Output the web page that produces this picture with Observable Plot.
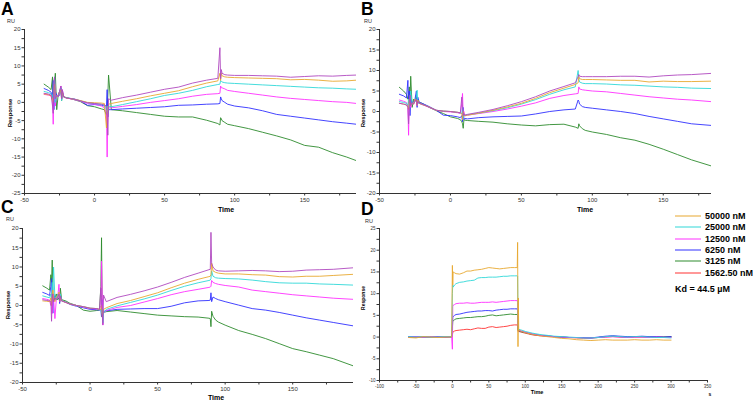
<!DOCTYPE html>
<html><head><meta charset="utf-8">
<script src="https://cdn.jsdelivr.net/npm/d3@7"></script>
<script src="https://cdn.jsdelivr.net/npm/@observablehq/plot@0.6"></script>
<style>
body{margin:0;background:#fff;font-family:"Liberation Sans",Arial,sans-serif;}
#root{position:relative;width:753px;height:402px;overflow:hidden;background:#fff;}
.t{position:absolute;white-space:nowrap;color:#000;line-height:1;transform:translate(-50%,-50%);}
.big{font-weight:bold;font-size:17.5px;line-height:17px;transform:none;}
.ru{font-size:5.5px;color:#333;}
.resp{font-weight:bold;font-size:6px;transform:translate(-50%,-50%) rotate(-90deg);}
.time{font-weight:bold;font-size:7px;}
.leg{position:absolute;font-weight:bold;font-size:9px;line-height:1;white-space:nowrap;transform:translateY(-50%);}
.legline{position:absolute;height:0;width:26px;border-top:1.6px solid;transform:translateY(-50%);}
</style>
</head><body>
<div id="root"></div>
<script>
// ---------- colours ----------
const cPurple = "#b048c0", cOrange = "#e8a830", cCyan = "#30d8d8", cMagenta = "#ff30ff",
      cBlue = "#3030ff", cGreen = "#2e8b2e", cRed = "#ff3333";

// ---------- panel A ----------
const tA = [-36,-33,-31,-30,-29.5,-29,-28.5,-28,-27,-26,-25,-24,-23.5,-23,-22,-20,-15,-10,-5,0,5,7,8.5,9,9.5,10,12,20,30,40,50,60,70,80,88,89.5,90,90.5,91,93,95,100,110,120,130,140,150,160,170,180,187];
const purpleA = [2.5,2.3,2.0,-1,-3,6,7,1,2,1.5,3,4.5,1,3.5,1.5,1.2, 0.9,0.4,-0.1,-0.3,-0.5,-0.7, -1,-3,-9,1,0.6, 1.3,2,2.8,3.6,4.2,5.3,6.1, 6.6,15,6.5,9,8,7.6,7.5, 7.4,7.4,7.3,7.2,6.9,7.1,7.3,7.2,7.4, 7.5];
const orangeA = [2.3,2.1,1.8,1,0,3,5,2,1.5,1.8,2.5,3.5,1.2,2.8,1.5,1.2, 0.9,0.5,0,-0.1,-0.2,-0.3, -7,-4,-2,-0.5,-0.3, 0.3,1,1.8,2.5,3.2,4.3,5.3, 5.9,8,6,8,7.3,7.0,6.9, 6.8,6.7,6.6,6.5,6.2,6.3,6.1,5.8,5.9, 6.1];
const cyanA = [3,2.7,2.4,2,1,5,7,0,2,1.5,2.5,4,0.5,3,1.5,1.3, 0.9,0.4,-0.1,-0.3,-0.6,-0.8, -2,-1,-3,-1,-1.2, -0.6,0.2,1,1.9,2.5,3.3,4.3, 4.9,5,6,5.8,5.6,5.4,5.3, 5.2,5.0,4.8,4.6,4.4,4.2,4.0,3.9,3.7, 3.6];
const magentaA = [2.2,2,1.8,0.5,-6,3,6,-1,2,1.5,2.8,4.5,0.8,3.5,1.6,1.2, 0.8,0.3,-0.3,-0.5,-1.0,-1.5, -3,-15,-2,-1.5,-1.5, -1.1,-0.6,0,0.5,1,1.7,2.2, 2.4,2.5,4.5,4,4,3.7,3.3, 3.0,2.5,2.0,1.5,1.1,0.8,0.5,0.2,0, -0.3];
const blueA = [3.8,3.3,2.8,1,6,-2,4,3,2,1.5,2,4,1,3,1.5,1.2, 1,0.4,-0.8,-0.6,-0.8,-1.0, -1,3.5,-4,-2,-2, -1.8,-1.6,-1.4,-1.2,-0.8,-0.7,-0.5, -0.4,-0.3,1.5,1,0.5,0,-0.5, -1.0,-1.5,-2.3,-3.3,-3.8,-4.3,-4.8,-5.3,-5.7, -6.0];
const greenA = [5,4.2,3.5,7,-1,2,5,8,-2,2,3,4,0.5,2.5,1.5,1.3, 0.8,0.2,-0.9,-1.2,-1.8,-2.0, -3.5,-2,2,7.5,-2, -2.3,-2.8,-3.3,-3.8,-4,-4.0,-4.9, -5.8,-6.2,-4.2,-4.5,-5,-5.5,-6, -6.4,-7.2,-8.2,-9.2,-10.3,-11.8,-12.3,-13.8,-15.0, -16.0];

// ---------- panel B ----------
const tB = [-36,-33,-31,-30,-29.5,-29,-28.5,-28,-27,-26,-25,-24,-23.5,-23,-22,-20,-15,-10,-5,0,5,7,8,8.5,9,9.5,10,12,20,30,40,50,60,70,80,88,90,90.5,91,93,95,100,110,120,130,140,150,160,170,184];
const purpleB = [2,1.8,1.6,1,-3,2,4,1.5,2.2,1.8,2.5,3,1.5,2.5,2,1.8, 1.1,0.3,0.1,0,-0.2,-0.3, 3.5,1,-1,-0.5,-0.9,-0.7, -0.2,0.5,1.4,2.4,3.6,5.0,6.1, 7.0,8.5,9,8.6,8.5,8.5, 8.5,8.5,8.6,8.6,8.4,8.7,8.9,9.0, 9.3];
const orangeB = [2,1.8,1.6,1.2,0.5,3,2,1.5,2,1.8,3,2.5,1.5,2.8,2,1.7, 1.1,0.3,0.1,0,-0.2,-0.3, -0.5,-2,0,-1,-1,-0.9, -0.4,0.3,1.1,2.0,3.2,4.6,5.7, 6.6,7,8.5,8,7.8,7.8, 7.8,7.7,7.6,7.6,7.2,7.4,7.3,7.3, 7.4];
const cyanB = [2.4,2.2,2,1.5,3,1,3,5,1.8,2,2.5,3.5,5.2,2,2,1.8, 1.1,0.3,0.1,0,-0.2,-0.4, -0.5,1,-1.5,-1,-0.9,-0.8, -0.4,0.2,0.9,1.8,2.9,4.2,5.3, 6.0,10,8,7.2,6.9,6.8, 6.8,6.7,6.5,6.4,6.2,6.0,5.9,5.7, 5.6];
const magentaB = [2.8,2.5,2.2,1,-5.8,3,2,1,2,1.8,2.5,3,1.5,2.5,2,1.7, 1.0,0.3,0,-0.1,-0.3,-0.5, 2,4.4,-1,0,-1.1,-0.9, -0.5,0,0.6,1.3,2.1,3.2,3.9, 4.3,4.4,6,5.5,5.3,5.2, 5.0,4.8,4.4,4.0,3.6,3.3,3.0,2.8, 2.4];
const blueB = [4.2,3.8,3.3,7.6,2,5,-1,3,2,2.5,3,5,1,3.5,2.2,2, 1.2,0.3,-0.9,-1,-1.3,-1.5, -1,-2.5,1,-2,-1.7,-1.8, -1.5,-1.3,-1.2,-1.1,-0.6,0.0,0.4, 0.6,2.8,2.5,1.8,1.2,1.0, 0.8,0.4,0.0,-0.5,-1.2,-1.8,-2.4,-3.0, -3.4];
const greenB = [5.9,5,4.2,3,4,6,2,8.6,1,3,2.5,4,2,3,2.2,2, 1.0,0.2,-0.5,-1.3,-1.7,-2, -2.5,-3,-4.1,-2,-2.1,-2.2, -2.4,-2.6,-3.0,-3.3,-3.5,-3.2,-3.1, -3.8,-4.1,-3,-3.5,-4.2,-4.6, -5.0,-5.6,-6.4,-7.0,-8.0,-9.2,-10.5,-11.8, -13.3];

// ---------- panel C ----------
const tC = [-35,-32,-30,-29,-28.5,-28,-27.5,-27,-26,-25,-24,-23,-22.5,-22,-21,-18,-15,-10,-5,0,5,7,8,8.5,9,9.5,10,12,20,30,40,50,60,70,80,88,89,89.5,90,91,93,95,100,110,120,130,140,150,160,170,180,195];
const purpleC = [1.5,1.3,1.2,1,-4.1,3,2,1,2,1.5,2,3,1,2.5,1.2,0.8, 0.4,0,-0.3,-0.7,-0.8,-1, 4.5,2,-2,-5,2.7,1.0, 2.1,2.9,3.8,4.8,6.0,7.3,8.4, 9.3,9.4,19,11,10,9.2,9.0, 8.9,9.0,9.1,9.0,8.8,8.9,9.2,9.3,9.4, 9.8];
const orangeC = [1.2,1.1,1,2,0,3,4,1.5,1,2,2.5,3.5,1,2,1.2,0.8, 0.4,0,-0.3,-0.7,-0.8,-1, -1,0,-3,-2,-1,-0.6, 0.5,1.3,2.3,3.3,4.6,5.8,6.8, 7.5,7.6,8,11,9,8.6,8.4, 8.2,8.2,8.0,7.9,7.5,7.4,7.6,7.6,7.8, 8.1];
const cyanC = [2.5,2.2,2,3,1,6,4,10,2,1.5,3,2.5,1.5,3,1.2,0.9, 0.4,0,-0.3,-0.7,-0.8,-1.1, -1,-2,-1,-4.5,-2,-1.0, -0.1,0.8,1.7,2.7,3.9,5.0,5.9, 6.5,6.6,7,9,7.6,7.2,7.1, 7.0,6.9,6.6,6.2,5.9,5.8,5.8,5.6,5.5, 5.3];
const magentaC = [1.8,1.6,1.4,0,2,-2,3,2,-3.4,1.5,2,5.5,1,2.5,1.2,0.8, 0.4,0,-0.4,-0.8,-0.9,-1.1, 0,11.5,3,-5.1,-2,-1.3, -0.5,0,0.9,1.8,2.8,3.6,4.2, 4.7,4.8,5,6.5,6,5.7,5.5, 5.2,4.8,4.0,3.6,3.2,2.8,2.5,2.2,1.9, 1.6];
const blueC = [3.4,3,2.6,5,7,1,-2,3,2,1.5,2.5,3,0.5,2,1.2,0.9, 0.3,-0.2,-0.6,-1,-1.1,-1.2, -1,-3,1.5,-2,-1.5,-1.4, -1.0,-0.9,-0.8,-0.8,-0.2,0.7,1.2, 1.3,1.4,3.3,1,2.2,1.8,1.5, 1.0,0.1,-0.8,-1.2,-1.8,-2.5,-3.2,-3.8,-4.4, -5.3];
const greenC = [5.1,4.5,4,8,6,11.8,3,1,2,3,1.5,2,1,4.5,1.5,1.2, 0.6,0,-1.2,-1.5,-1.3,-1.2, 5,17.6,-1,-2,-1.8,-1.6, -1.3,-1.7,-2.1,-2.5,-2.7,-2.9,-3.0, -3.3,-3.4,-5.5,-1.5,-2.8,-3.8,-4.3, -5.1,-6.5,-7.5,-8.6,-9.9,-11.2,-12.0,-12.9,-13.8, -15.7];

// ---------- panel D ----------
const tD = [-60,-50,-40,-30,-20,-10,-1,0,0.5,1,3,5,10,15,20,25,30,35,40,45,50,55,60,65,70,75,80,85,89,89.5,90,90.5,91,93,95,100,110,120,130,140,150,160,170,180,190,200,210,220,230,240,250,260,270,280,290,300];
const orangeD = [-0.1,-0.2,0.1,0,-0.1,0,0, 16.5,12,15,14.8,14.6, 14.5,14.8,15.2,15.2,15.4,15.5,15.6,15.8,16.0,15.9,15.8,15.7,15.8,15.9,16.0,16.0, 16.0,21.8,-2.2,9,1.6,1.4,1.3, 1.0,0.6,0.3,0.1,-0.1,-0.3,-0.4,-0.6,-0.7,-0.8,-0.7,-0.6,-0.7,-0.7,-0.7,-0.6,-0.7,-0.7,-0.6,-0.7,-0.7];
const cyanD = [0.1,0,0.1,0,0,0.1,0, 10,12,11.5,12,12.3, 12.6,12.7,12.9,13.0,13.1,13.6,13.7,13.7,13.8,13.8,13.8,13.9,14.0,14.0,14.1,14.1, 14.1,14,5,2,1.8,1.7,1.6, 1.3,0.9,0.6,0.4,0.2,0.1,0,-0.1,-0.2,-0.2,-0.1,0.1,0.2,0.1,0,0.1,0.1,0,-0.1,-0.1,-0.2];
const magentaD = [0,0.1,0,0.1,0,0,0, -2.8,7,7.3,7.5,7.7, 7.8,7.8,7.9,7.8,7.8,7.9,8.0,8.0,8.0,8.1,8.0,8.1,8.2,8.3,8.4,8.4, 8.4,8,3,1.8,1.6,1.5,1.4, 1.1,0.7,0.4,0.2,0.1,0,-0.1,-0.1,-0.2,-0.2,-0.1,0,0.1,0,-0.1,0,0,-0.1,0,-0.1,-0.1];
const blueD = [0.1,0.1,0,0,0.1,0,0, 3,4.5,4.7,5.0,5.2, 5.3,5.5,5.7,5.8,5.9,6.0,6.0,6.1,6.1,6.0,6.2,6.3,6.4,6.4,6.5,6.5, 6.5,6,2,1.8,1.5,1.4,1.3, 1.1,0.7,0.4,0.3,0.1,0,-0.1,-0.1,-0.1,-0.2,0,0.2,0.3,0.2,0.1,0.1,0.2,0.1,0.1,0,0.1];
const greenD = [0,0,0.1,0,0,0,0, 2,3.5,3.8,4.0,4.2, 4.3,4.4,4.5,4.5,4.6,4.7,4.7,4.8,5.0,5.1,4.9,5.0,5.1,5.2,5.3,5.2, 5.2,5,1.5,1.5,1.5,1.3,1.2, 1.0,0.6,0.4,0.2,0.1,0,-0.1,-0.1,-0.2,-0.2,-0.1,0.1,0.2,0.1,0,0.1,0.1,0,0,0,0.1];
const redD = [0,0,0,0.1,0,0,0, 0.5,1,1.2,1.4,1.5, 1.6,1.7,1.8,1.7,1.9,2.1,2.0,2.0,2.3,2.4,2.2,2.3,2.4,2.5,2.7,2.8, 2.8,2.5,1.5,1.2,1.3,1.2,1.1, 0.9,0.5,0.3,0.2,0.1,0,-0.1,-0.2,-0.2,-0.2,-0.1,0,0.1,0,-0.1,0,0,0,0,0,0];

// ---------- ticks and labels ----------
const xTicksABC = [-50,-25,0,25,50,75,100,125,150,175];
const xLabelsABC = [-50,0,50,100,150];
const yTicksA = [-25,-22.5,-20,-17.5,-15,-12.5,-10,-7.5,-5,-2.5,0,2.5,5,7.5,10,12.5,15,17.5,20];
const yLabelsA = [-25,-20,-15,-10,-5,0,5,10,15,20];
const yTicksBC = [-20,-17.5,-15,-12.5,-10,-7.5,-5,-2.5,0,2.5,5,7.5,10,12.5,15,17.5,20];
const yLabelsBC = [-20,-15,-10,-5,0,5,10,15,20];
const xTicksD = [-100,-75,-50,-25,0,25,50,75,100,125,150,175,200,225,250,275,300,325,350];
const xLabelsD = [-100,-50,0,50,100,150,200,250,300,350];
const yTicksD = [-10,-7.5,-5,-2.5,0,2.5,5,7.5,10,12.5,15,17.5,20,22.5,25];
const yLabelsD = [-10,-5,0,5,10,15,20,25];

const legendLabels = ["50000 nM","25000 nM","12500 nM","6250 nM","3125 nM","1562.50 nM"];
const legendColors = [cOrange, cCyan, cMagenta, cBlue, cGreen, cRed];
const kdText = "Kd = 44.5 µM";

const root = document.getElementById("root");

function makePanel(p) {
  const xl = new Set(p.xLabels), yl = new Set(p.yLabels);
  const marks = [
    Plot.axisX({ticks: p.xTicks, tickFormat: d => xl.has(d) ? String(d) : "", tickSize: 2.5, tickPadding: 1.5, fontSize: p.fs, label: null}),
    Plot.axisY({ticks: p.yTicks, tickFormat: d => yl.has(d) ? String(d) : "", tickSize: 2.5, tickPadding: 1.5, fontSize: p.fs, label: null}),
    Plot.ruleX([p.xDomain[0]], {stroke: "#333", strokeWidth: 1}),
    Plot.ruleY([p.yDomain[0]], {stroke: "#333", strokeWidth: 1})
  ];
  for (const s of p.series) {
    const data = p.time.map((t, i) => ({t, v: s.values[i]}));
    marks.push(Plot.line(data, {x: "t", y: "v", stroke: s.color, strokeWidth: 0.9, clip: true}));
  }
  const svg = Plot.plot({
    width: p.w, height: p.h,
    marginLeft: p.mL, marginRight: p.mR, marginTop: p.mT, marginBottom: p.mB,
    x: {domain: p.xDomain}, y: {domain: p.yDomain},
    style: {background: "transparent", overflow: "visible", color: "#333", fontFamily: "'Liberation Sans', Arial, sans-serif"},
    marks
  });
  svg.style.position = "absolute";
  svg.style.left = p.left + "px";
  svg.style.top = p.top + "px";
  svg.style.maxWidth = "none";
  root.appendChild(svg);
}

makePanel({left: 0, top: 0, w: 376, h: 215, mL: 24, mR: 20, mT: 29, mB: 22, fs: 6,
  xDomain: [-50, 187], yDomain: [-25, 20], xTicks: xTicksABC, xLabels: xLabelsABC, yTicks: yTicksA, yLabels: yLabelsA,
  time: tA, series: [
    {values: greenA, color: cGreen}, {values: blueA, color: cBlue}, {values: magentaA, color: cMagenta},
    {values: cyanA, color: cCyan}, {values: orangeA, color: cOrange}, {values: purpleA, color: cPurple}]});

makePanel({left: 340, top: 0, w: 413, h: 215, mL: 39, mR: 42, mT: 29, mB: 22, fs: 6,
  xDomain: [-50, 184], yDomain: [-20, 20], xTicks: xTicksABC, xLabels: xLabelsABC, yTicks: yTicksBC, yLabels: yLabelsBC,
  time: tB, series: [
    {values: greenB, color: cGreen}, {values: blueB, color: cBlue}, {values: magentaB, color: cMagenta},
    {values: cyanB, color: cCyan}, {values: orangeB, color: cOrange}, {values: purpleB, color: cPurple}]});

makePanel({left: 0, top: 200, w: 376, h: 200, mL: 22, mR: 23, mT: 28, mB: 18, fs: 6,
  xDomain: [-50, 195], yDomain: [-20, 20], xTicks: xTicksABC, xLabels: xLabelsABC, yTicks: yTicksBC, yLabels: yLabelsBC,
  time: tC, series: [
    {values: greenC, color: cGreen}, {values: blueC, color: cBlue}, {values: magentaC, color: cMagenta},
    {values: cyanC, color: cCyan}, {values: orangeC, color: cOrange}, {values: purpleC, color: cPurple}]});

makePanel({left: 340, top: 200, w: 413, h: 200, mL: 39, mR: 46, mT: 28, mB: 20, fs: 4.5,
  xDomain: [-100, 350], yDomain: [-10, 25], xTicks: xTicksD, xLabels: xLabelsD, yTicks: yTicksD, yLabels: yLabelsD,
  time: tD, series: [
    {values: redD, color: cRed}, {values: greenD, color: cGreen}, {values: blueD, color: cBlue},
    {values: magentaD, color: cMagenta}, {values: cyanD, color: cCyan}, {values: orangeD, color: cOrange}]});

// ---------- text labels ----------
function addText(txt, cls, x, y, extra) {
  const d = document.createElement("div");
  d.className = cls;
  d.textContent = txt;
  d.style.left = x + "px";
  d.style.top = y + "px";
  if (extra) Object.assign(d.style, extra);
  root.appendChild(d);
}
addText("A", "t big", 1, 1);
addText("B", "t big", 361, 1);
addText("C", "t big", 1, 199);
addText("D", "t big", 361, 201);
addText("RU", "t ru", 11, 21.5);
addText("RU", "t ru", 368, 21.5);
addText("RU", "t ru", 10, 220);
addText("RU", "t ru", 369, 221.5);
addText("Response", "t resp", 10, 113);
addText("Response", "t resp", 363, 113);
addText("Response", "t resp", 8, 305);
addText("Response", "t resp", 363, 298, {fontSize: "5px"});
addText("Time", "t time", 226, 209);
addText("Time", "t time", 585, 209);
addText("Time", "t time", 216, 397);
addText("Time", "t time", 537, 393, {fontSize: "5.5px"});
addText("s", "t time", 710, 394, {fontSize: "5px"});

// ---------- legend ----------
const legY = [216, 227.3, 238.6, 250, 261.3, 272.6];
legendLabels.forEach((lab, i) => {
  const ln = document.createElement("div");
  ln.className = "legline";
  ln.style.left = "675px";
  ln.style.top = legY[i] + "px";
  ln.style.borderTopColor = legendColors[i];
  root.appendChild(ln);
  const tx = document.createElement("div");
  tx.className = "leg";
  tx.textContent = lab;
  tx.style.left = "705px";
  tx.style.top = legY[i] + "px";
  root.appendChild(tx);
});
const kd = document.createElement("div");
kd.className = "leg";
kd.textContent = kdText;
kd.style.left = "675px";
kd.style.top = "289px";
root.appendChild(kd);
</script>
</body></html>
